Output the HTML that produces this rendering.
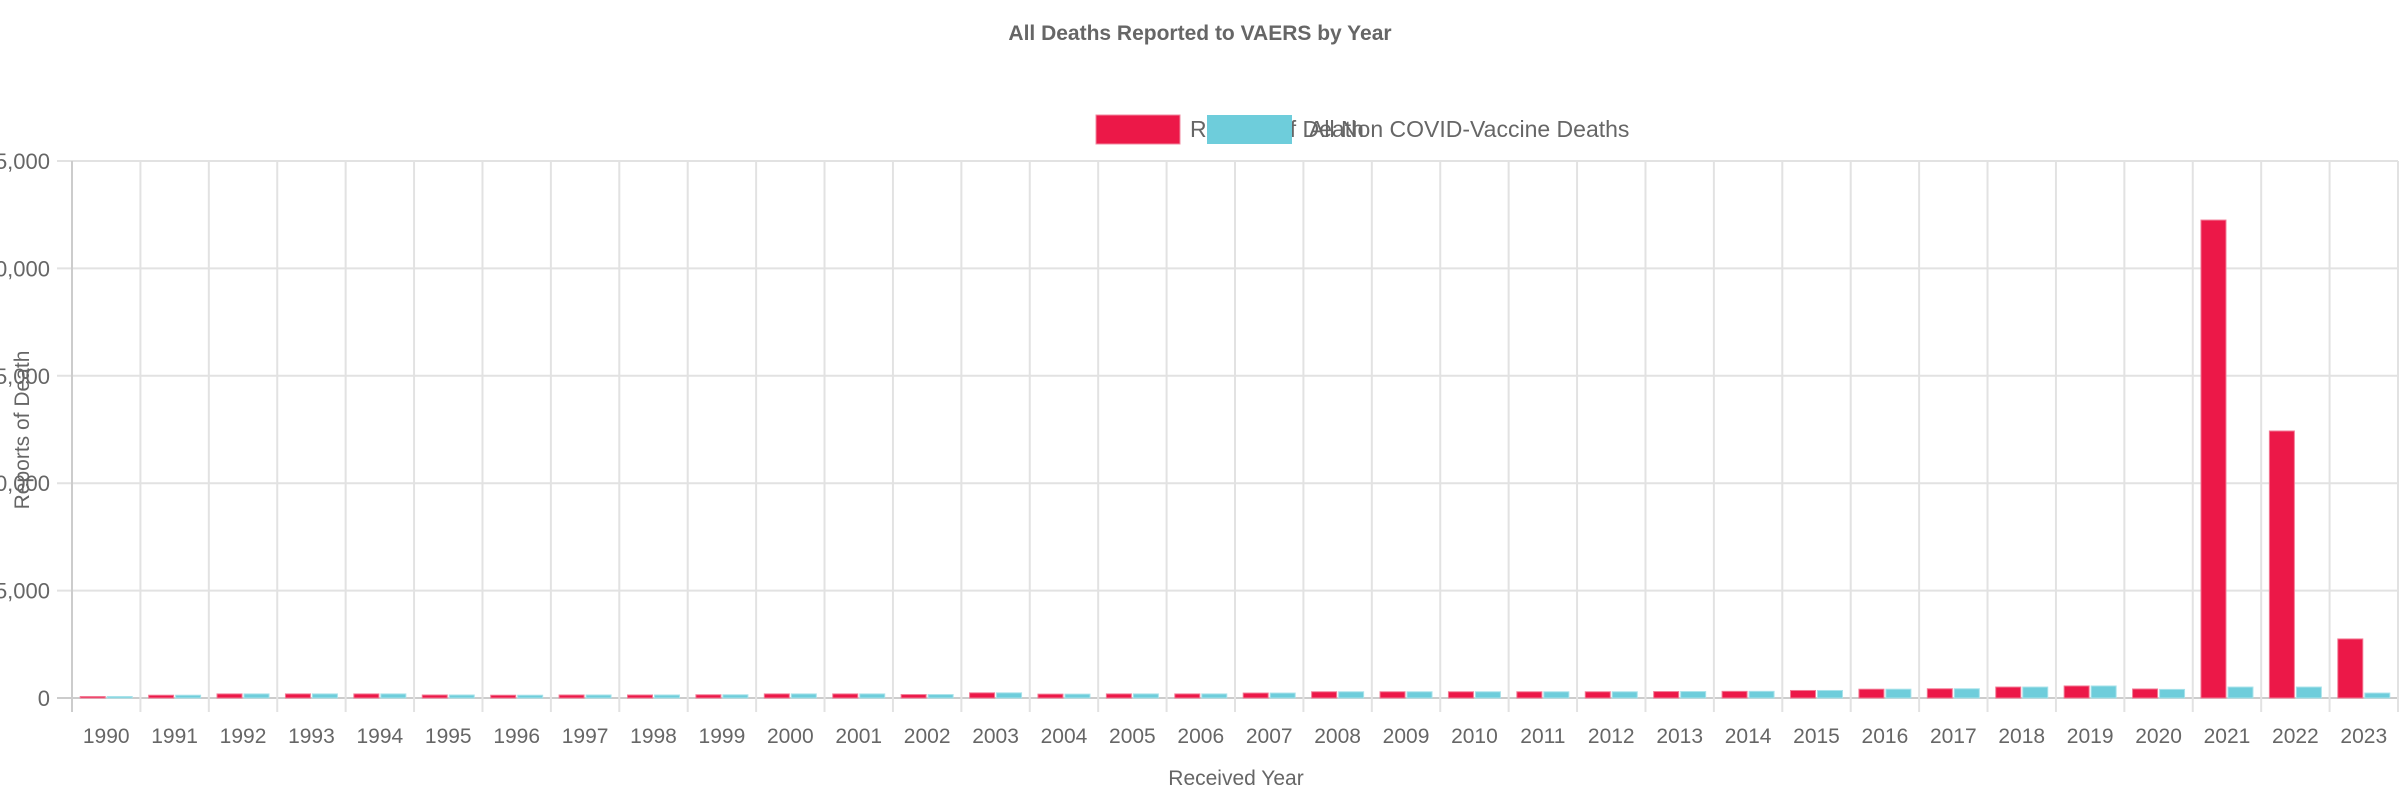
<!DOCTYPE html>
<html><head><meta charset="utf-8"><style>
html,body{margin:0;padding:0;background:#fff;}
svg{display:block;font-family:"Liberation Sans",Arial,sans-serif;}
</style></head><body>
<svg id="chart" width="2400" height="800" viewBox="0 0 2400 800">
<text x="1200" y="40" text-anchor="middle" font-size="21" font-weight="bold" fill="#666">All Deaths Reported to VAERS by Year</text>
<g>
<rect x="1096" y="115" width="84" height="29" fill="#EC1848" stroke="#f08aa0" stroke-width="1"/>
<text x="1190" y="137" font-size="23" fill="#666">Reports of Death</text>
<rect x="1207" y="115" width="85" height="29" fill="#6ECDDB"/>
<text x="1309" y="137" font-size="23" fill="#666">All Non COVID-Vaccine Deaths</text>
</g>
<g id="grid"></g>
<g id="bars"></g>
<g id="axes"></g>
<text x="1236" y="785" text-anchor="middle" font-size="21" fill="#666">Received Year</text>
<text transform="translate(29,430) rotate(-90)" text-anchor="middle" font-size="21" fill="#666">Reports of Death</text>
</svg>
<script>
const years = [1990,1991,1992,1993,1994,1995,1996,1997,1998,1999,2000,2001,2002,2003,2004,2005,2006,2007,2008,2009,2010,2011,2012,2013,2014,2015,2016,2017,2018,2019,2020,2021,2022,2023];
const reportsOfDeath = [70,130,190,190,190,140,130,140,140,150,190,190,160,240,180,190,190,230,290,290,290,290,290,300,310,350,410,430,510,560,420,22250,12430,2750];
const nonCovidDeaths = [70,130,190,190,190,140,130,140,140,150,190,190,160,240,180,190,190,230,290,290,290,290,290,300,310,350,410,430,510,560,400,510,510,230];
const yTicks = [0,5000,10000,15000,20000,25000];
const yTickLabels = ["0","5,000","10,000","15,000","20,000","25,000"];

const NS="http://www.w3.org/2000/svg";
const plotLeft=72,plotRight=2398,plotTop=161,plotBottom=698,yMax=25000;
const band=(plotRight-plotLeft)/years.length;
const yScale=v=>plotBottom-(v/yMax)*(plotBottom-plotTop);
const xBand=i=>plotLeft+i*band;
function mk(tag,attrs,parent){const e=document.createElementNS(NS,tag);for(const k in attrs)e.setAttribute(k,attrs[k]);parent.appendChild(e);return e;}
const grid=document.getElementById('grid'),bars=document.getElementById('bars'),axes=document.getElementById('axes');
yTicks.forEach((t,i)=>{
  const l=mk('line',{x1:57,x2:plotRight,y1:yScale(t),y2:yScale(t),stroke:i===0?'#ccc':'#e2e2e2','stroke-width':2},grid);
  
  
  const tx=mk('text',{x:50,y:yScale(t)+8,'text-anchor':'end','font-size':22,fill:'#666'},axes);
  
  
  tx.textContent=yTickLabels[i];
});
for(let i=0;i<=years.length;i++){
  const x=xBand(i);
  const l=mk('line',{x1:x,x2:x,y1:plotTop,y2:plotBottom+14,stroke:i===0?'#ccc':'#e2e2e2','stroke-width':2},grid);
  
  
}
years.forEach((yr,i)=>{
  const cx=xBand(i)+band/2;
  const bw=25;
  const r=mk('rect',{x:cx-bw-1,y:yScale(reportsOfDeath[i]),width:bw,height:plotBottom-yScale(reportsOfDeath[i]),fill:'#EC1848',stroke:'#f27a95','stroke-width':1},bars);
  
  
  const b=mk('rect',{x:cx+1,y:yScale(nonCovidDeaths[i]),width:bw,height:plotBottom-yScale(nonCovidDeaths[i]),fill:'#6ECDDB',stroke:'#a8e2ea','stroke-width':1},bars);
  
  
  const t=mk('text',{x:cx,y:743,'text-anchor':'middle','font-size':21,fill:'#666'},axes);
  
  
  t.textContent=yr;
});
</script>
</body></html>
